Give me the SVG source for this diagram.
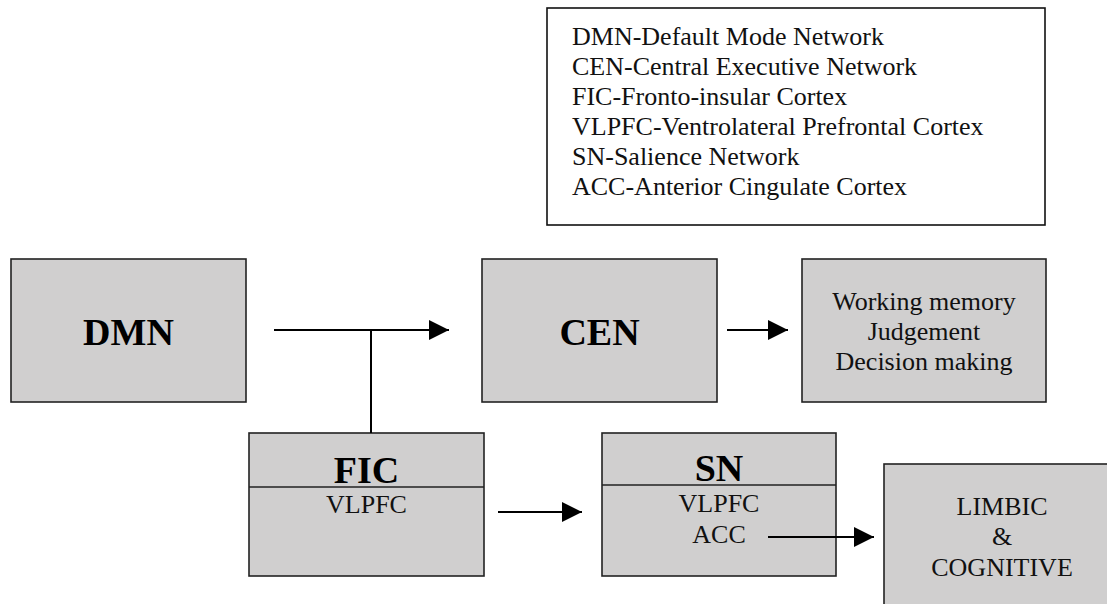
<svg xmlns="http://www.w3.org/2000/svg" width="1107" height="604" viewBox="0 0 1107 604">
  <style>
    .box { fill: #d0cfcf; stroke: #222; stroke-width: 1.6; }
    .legend { fill: #fff; stroke: #111; stroke-width: 1.6; }
    .div { stroke: #222; stroke-width: 1.6; }
    .title { font-family: "Liberation Serif", "Times New Roman", serif; font-weight: bold; font-size: 38px; fill: #000; text-anchor: middle; }
    .txt { font-family: "Liberation Serif", "Times New Roman", serif; font-size: 26px; fill: #111; text-anchor: middle; }
    .leg { font-family: "Liberation Serif", "Times New Roman", serif; font-size: 26px; fill: #111; }
    .conn { stroke: #000; stroke-width: 2; fill: none; }
  </style>
  <defs>
    <marker id="arrow" markerUnits="userSpaceOnUse" markerWidth="20" markerHeight="20" refX="20" refY="10" orient="auto">
      <path d="M0,0 L20,10 L0,20 Z" fill="#000"/>
    </marker>
  </defs>

  <!-- abbreviation key -->
  <g id="legend">
    <rect class="legend" x="547" y="8" width="498" height="217"/>
    <text class="leg" x="572" y="45">DMN-Default Mode Network</text>
    <text class="leg" x="572" y="75">CEN-Central Executive Network</text>
    <text class="leg" x="572" y="105">FIC-Fronto-insular Cortex</text>
    <text class="leg" x="572" y="135">VLPFC-Ventrolateral Prefrontal Cortex</text>
    <text class="leg" x="572" y="165">SN-Salience Network</text>
    <text class="leg" x="572" y="195">ACC-Anterior Cingulate Cortex</text>
  </g>

  <g id="dmn">
    <rect class="box" x="11" y="259" width="235" height="143"/>
    <text class="title" x="128.5" y="345">DMN</text>
  </g>

  <g id="cen">
    <rect class="box" x="482" y="259" width="235" height="143"/>
    <text class="title" x="599.5" y="345">CEN</text>
  </g>

  <g id="functions">
    <rect class="box" x="802" y="259" width="244" height="143"/>
    <text class="txt" x="924" y="310">Working memory</text>
    <text class="txt" x="924" y="340">Judgement</text>
    <text class="txt" x="924" y="370">Decision making</text>
  </g>

  <g id="fic">
    <rect class="box" x="249" y="433" width="235" height="143"/>
    <line class="div" x1="249" y1="487" x2="484" y2="487"/>
    <text class="title" x="366.5" y="483">FIC</text>
    <text class="txt" x="366.5" y="513">VLPFC</text>
  </g>

  <g id="sn">
    <rect class="box" x="602" y="433" width="234" height="143"/>
    <line class="div" x1="602" y1="485" x2="836" y2="485"/>
    <text class="title" x="719" y="481">SN</text>
    <text class="txt" x="719" y="512">VLPFC</text>
    <text class="txt" x="719" y="543">ACC</text>
  </g>

  <g id="limbic">
    <rect class="box" x="884" y="464" width="236" height="146"/>
    <text class="txt" x="1002" y="515">LIMBIC</text>
    <text class="txt" x="1002" y="545">&amp;</text>
    <text class="txt" x="1002" y="576">COGNITIVE</text>
  </g>

  <g id="connectors">
    <line class="conn" x1="274" y1="330" x2="449" y2="330" marker-end="url(#arrow)"/>
    <line class="conn" x1="371" y1="330" x2="371" y2="433"/>
    <line class="conn" x1="727" y1="330" x2="788" y2="330" marker-end="url(#arrow)"/>
    <line class="conn" x1="498" y1="512" x2="582" y2="512" marker-end="url(#arrow)"/>
    <line class="conn" x1="768" y1="537" x2="874" y2="537" marker-end="url(#arrow)"/>
  </g>
</svg>
